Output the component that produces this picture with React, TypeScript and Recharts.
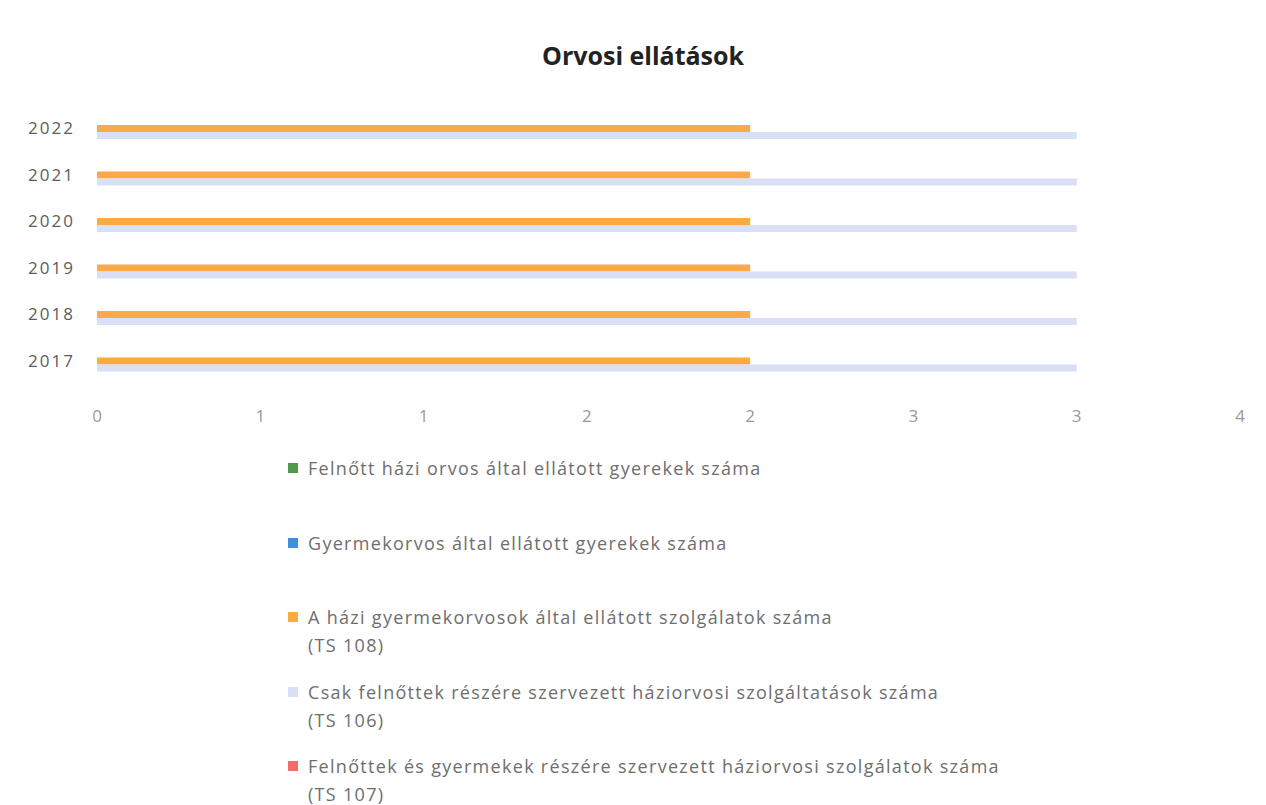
import React from 'react';
import { BarChart, Bar, XAxis, YAxis } from 'recharts';

const years = ['2017', '2018', '2019', '2020', '2021', '2022'];

// one array per series, same order as years
const felnottHaziGyerek = [0, 0, 0, 0, 0, 0];
const gyermekorvosGyerek = [0, 0, 0, 0, 0, 0];
const haziGyermekorvosTS108 = [2, 2, 2, 2, 2, 2];
const csakFelnottTS106 = [3, 3, 3, 3, 3, 3];
const felnottGyermekTS107 = [0, 0, 0, 0, 0, 0];

const xTicks = [0, 0.5, 1, 1.5, 2, 2.5, 3, 3.5];

const series = [
  { key: 'felnottHazi', name: 'Felnőtt házi orvos által ellátott gyerekek száma', color: '#4f9a4a', values: felnottHaziGyerek },
  { key: 'gyermekorvos', name: 'Gyermekorvos által ellátott gyerekek száma', color: '#3f8fe0', values: gyermekorvosGyerek },
  { key: 'ts108', name: 'A házi gyermekorvosok által ellátott szolgálatok száma\n(TS 108)', color: '#fbaa45', values: haziGyermekorvosTS108 },
  { key: 'ts106', name: 'Csak felnőttek részére szervezett háziorvosi szolgáltatások száma\n(TS 106)', color: '#d9dff4', values: csakFelnottTS106 },
  { key: 'ts107', name: 'Felnőttek és gyermekek részére szervezett háziorvosi szolgálatok száma\n(TS 107)', color: '#f26b66', values: felnottGyermekTS107 },
];

const data = years.map((year, i) => {
  const row: Record<string, string | number> = { year };
  series.forEach(s => { row[s.key] = s.values[i]; });
  return row;
});

const font = '"Open Sans", sans-serif';

export default function App() {
  return (
    <div style={{ position: 'absolute', left: 0, top: 0, width: 1266, height: 805, background: '#fff', fontFamily: font }}>
      <div style={{ position: 'absolute', left: 0, top: 38, width: 1286, textAlign: 'center', fontSize: 25, fontWeight: 700, color: '#222' }}>
        Orvosi ellátások
      </div>

      <BarChart
        width={1266}
        height={805}
        data={data}
        layout="vertical"
        margin={{ top: 105, right: 26, left: 0, bottom: 391 }}
        barSize={7}
        barGap={0}
      >
        <XAxis
          type="number"
          domain={[0, 3.5]}
          ticks={xTicks}
          tickFormatter={(v: number) => String(Math.round(v))}
          axisLine={false}
          tickLine={false}
          tickMargin={20}
          height={30}
          tick={{ fill: '#9a9a9a', fontSize: 17, fontFamily: font }}
        />
        <YAxis
          type="category"
          dataKey="year"
          reversed
          width={97}
          axisLine={false}
          tickLine={false}
          tickMargin={16}
          tick={{ fill: '#5c5c5c', fontSize: 17, fontFamily: font, letterSpacing: 2 }}
        />
        {series.map(s => (
          <Bar key={s.key} dataKey={s.key} name={s.name} fill={s.color} isAnimationActive={false} />
        ))}
      </BarChart>

      <div style={{ position: 'absolute', left: 288, top: 454 }}>
        {series.map(s => (
          <div key={s.key} style={{ height: 74.5, display: 'flex', alignItems: 'flex-start' }}>
            <span style={{ width: 10, height: 10, background: s.color, marginTop: 9, marginRight: 10, flex: 'none' }} />
            <span style={{ whiteSpace: 'pre-line', fontSize: 18, lineHeight: '28px', color: '#6e6e6e', letterSpacing: 1.3 }}>{s.name}</span>
          </div>
        ))}
      </div>
    </div>
  );
}
